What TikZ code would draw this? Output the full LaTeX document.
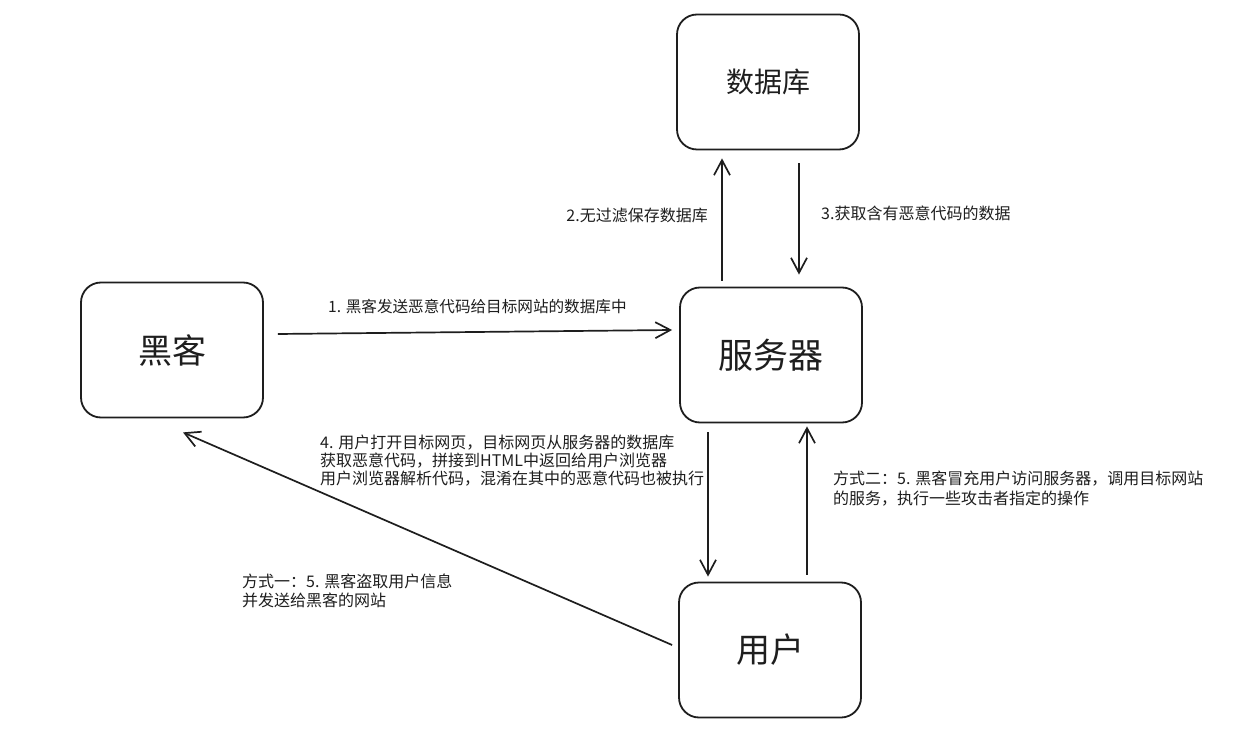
\documentclass[tikz,border=0pt]{standalone}
\usepackage{fontspec}
\setmainfont{Noto Sans CJK SC}
\usetikzlibrary{arrows.meta}
\definecolor{ink}{HTML}{1E1E1E}
\begin{document}
\begin{tikzpicture}[x=1pt,y=1pt,
  box/.style={draw=ink, line width=1.8pt, rounded corners=20pt, minimum width=182pt, minimum height=135pt, inner sep=0pt, text=ink},
  arr/.style={draw=ink, line width=1.7pt, -{Straight Barb[length=15pt,width=16pt]}},
  lbl/.style={text=ink, font=\fontsize{16}{19}\selectfont, inner sep=0pt, align=left}]
\useasboundingbox (0,0) rectangle (1241,753);
\fill[white] (0,0) rectangle (1241,753);
% boxes
\node[box, font=\fontsize{28}{30}\selectfont] (db) at (768,671) {数据库};
\node[box, font=\fontsize{34}{36}\selectfont] (hk) at (172,403) {黑客};
\node[box, font=\fontsize{35}{37}\selectfont] (fw) at (771,398) {服务器};
\node[box, font=\fontsize{34}{36}\selectfont] (yh) at (770,103) {用户};
% connectors
\draw[arr] ([xshift=14pt,yshift=16pt]hk.east) -- ([xshift=-7pt,yshift=25pt]fw.west);
\draw[arr] ([xshift=-49pt,yshift=6pt]fw.north) -- ([xshift=-46pt,yshift=-8pt]db.south);
\draw[arr] ([xshift=31pt,yshift=-13pt]db.south) -- ([xshift=28pt,yshift=12pt]fw.north);
\draw[arr] ([xshift=-63pt,yshift=-9pt]fw.south) -- ([xshift=-62pt,yshift=5pt]yh.north);
\draw[arr] ([xshift=37pt,yshift=7pt]yh.north) -- ([xshift=36pt,yshift=-3pt]fw.south);
\draw[arr] ([xshift=-6pt,yshift=5pt]yh.west) -- ([xshift=11pt,yshift=-14pt]hk.south);
% labels
\node[lbl, font=\fontsize{15.6}{18}\selectfont, anchor=west] (l1) at (328,446) {1. 黑客发送恶意代码给目标网站的数据库中};
\node[lbl, anchor=east] (l2) at (708,538) {2.无过滤保存数据库};
\node[lbl, anchor=west] (l3) at (821,540) {3.获取含有恶意代码的数据};
\node[lbl, font=\fontsize{16}{18}\selectfont, anchor=north west] (l4) at (320,318) {4. 用户打开目标网页，目标网页从服务器的数据库\\获取恶意代码，拼接到HTML中返回给用户浏览器\\用户浏览器解析代码，混淆在其中的恶意代码也被执行};
\node[lbl, font=\fontsize{16}{20}\selectfont, anchor=north west] (l5) at (833,282) {方式二：5. 黑客冒充用户访问服务器，调用目标网站\\的服务，执行一些攻击者指定的操作};
\node[lbl, anchor=north west] (l6) at (242,179) {方式一：5. 黑客盗取用户信息\\并发送给黑客的网站};
\end{tikzpicture}
\end{document}
